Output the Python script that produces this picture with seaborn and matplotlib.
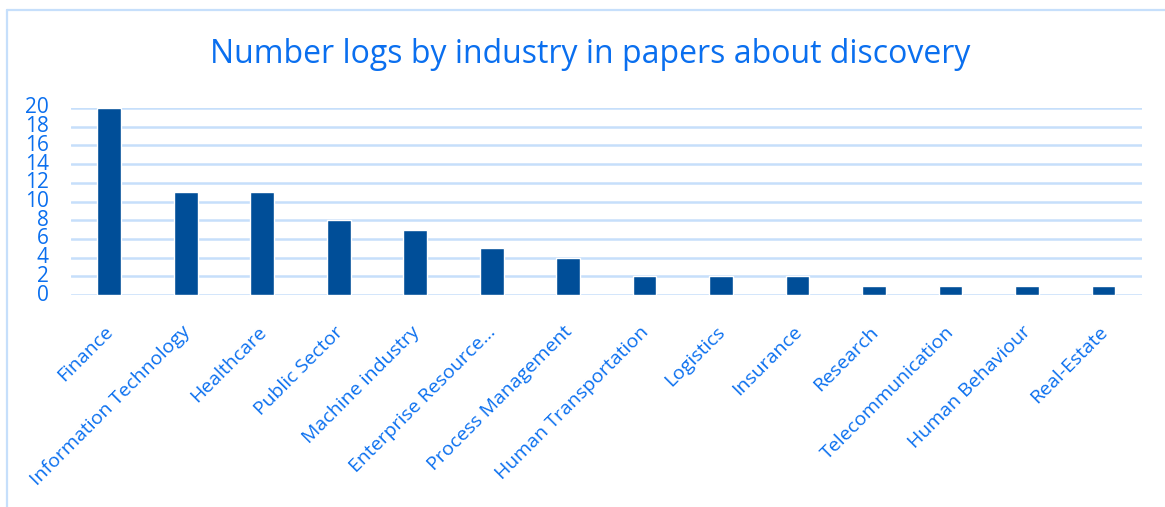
import matplotlib
matplotlib.use("Agg")
import matplotlib.pyplot as plt
from matplotlib.lines import Line2D
from matplotlib.transforms import ScaledTranslation
import seaborn as sns
import pandas as pd

industries = [
    "Finance", "Information Technology", "Healthcare", "Public Sector",
    "Machine industry", "Enterprise Resource...", "Process Management",
    "Human Transportation", "Logistics", "Insurance", "Research",
    "Telecommunication", "Human Behaviour", "Real-Estate",
]
counts = [20, 11, 11, 8, 7, 5, 4, 2, 2, 2, 1, 1, 1, 1]
y_ticks = list(range(0, 21, 2))

title = "Number logs by industry in papers about discovery"

text_blue = "#0a6fef"
bar_blue = "#004e98"
grid_blue = "#c6dffb"

sns.set_theme(style="white")
plt.rcParams["font.family"] = ["Open Sans", "DejaVu Sans"]

df = pd.DataFrame({"industry": industries, "count": counts})

fig = plt.figure(figsize=(11.65, 5.07), dpi=100)
ax = fig.add_axes([0.061, 0.418, 0.919, 0.369])

sns.barplot(data=df, x="industry", y="count", color=bar_blue,
            width=0.31, saturation=1, ax=ax, zorder=3)

ax.set_ylim(0, 20)
ax.set_xlim(-0.5, len(industries) - 0.5)
ax.set_yticks(y_ticks)
ax.yaxis.grid(True, color=grid_blue, linewidth=1.8, zorder=0)
ax.set_axisbelow(True)
for s in ax.spines.values():
    s.set_visible(False)
ax.set_xlabel("")
ax.set_ylabel("")
ax.tick_params(axis="both", length=0)
ax.tick_params(axis="y", labelsize=15, labelcolor=text_blue, pad=16)
ax.tick_params(axis="x", labelsize=14, labelcolor=text_blue, pad=20)
for lab in ax.get_yticklabels():
    lab.set_verticalalignment("center")
ax.set_xticks(range(len(industries)))
ax.set_xticklabels(industries, rotation=45, ha="right", rotation_mode="anchor")
shift = ScaledTranslation(-0.05, 0, fig.dpi_scale_trans)
for lab in ax.get_xticklabels():
    lab.set_transform(lab.get_transform() + shift)

fig.text(0.507, 0.893, title, ha="center", va="center", fontsize=23,
         color=text_blue)

# thin frame along the top and left edges
fig.add_artist(Line2D([6.5 / 1165, 1.0], [1 - 9.5 / 507, 1 - 9.5 / 507],
                      transform=fig.transFigure, color=grid_blue, linewidth=1.6))
fig.add_artist(Line2D([6.5 / 1165, 6.5 / 1165], [0.0, 1 - 9.5 / 507],
                      transform=fig.transFigure, color=grid_blue, linewidth=1.6))

fig.savefig("out.png", dpi=100, facecolor="white")
